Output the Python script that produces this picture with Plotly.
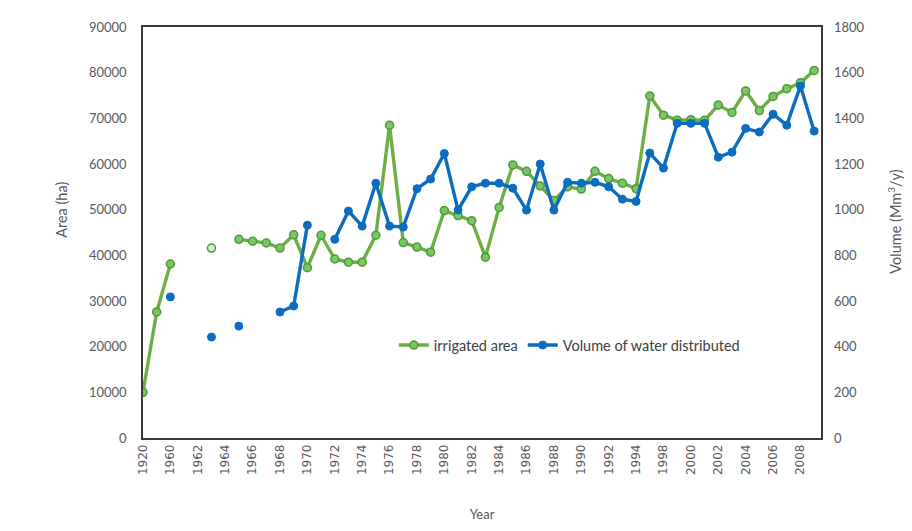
import plotly.graph_objects as go

years = ["1920", "1940", "1960", "1961", "1962", "1963", "1964", "1965", "1966", "1967",
         "1968", "1969", "1970", "1971", "1972", "1973", "1974", "1975", "1976", "1977",
         "1978", "1979", "1980", "1981", "1982", "1983", "1984", "1985", "1986", "1987",
         "1988", "1989", "1990", "1991", "1992", "1993", "1994", "1996", "1998", "1999",
         "2000", "2001", "2002", "2003", "2004", "2005", "2006", "2007", "2008", "2009"]

tick_labels = ["1920", "1960", "1962", "1964", "1966", "1968", "1970", "1972", "1974", "1976",
               "1978", "1980", "1982", "1984", "1986", "1988", "1990", "1992", "1994", "1998",
               "2000", "2002", "2004", "2006", "2008"]

irrigated_area = [10000, 27600, 38100, None, None, 41600, None, 43500, 43100, 42700,
                  41600, 44500, 37300, 44400, 39200, 38500, 38500, 44400, 68500, 42800,
                  41800, 40700, 49800, 48700, 47600, 39600, 50500, 59800, 58400, 55200,
                  52000, 55000, 54500, 58400, 56800, 55800, 54600, 74900, 70700, 69600,
                  69700, 69600, 72900, 71300, 76000, 71700, 74800, 76500, 77800, 80500]

water_volume = [None, None, 618, None, None, 442, None, 490, None, None,
                552, 578, 932, None, 870, 994, 928, 1116, 928, 924,
                1092, 1134, 1246, 998, 1100, 1116, 1116, 1094, 998, 1200,
                998, 1120, 1116, 1120, 1100, 1046, 1036, 1248, 1182, 1378,
                1378, 1378, 1230, 1252, 1356, 1340, 1418, 1370, 1542, 1344]

green_line = "#6DAE45"
green_fill = ["#C9F2D6" if (i > 0 and irrigated_area[i - 1] is None and
                            (i + 1 < len(irrigated_area) and irrigated_area[i + 1] is None))
              else "#7CC566" for i in range(len(irrigated_area))]
blue = "#0B6CC0"
txt = "#595959"
font_family = "Lato, 'Open Sans', sans-serif"

fig = go.Figure()
fig.add_trace(go.Scatter(
    x=years, y=irrigated_area, name="irrigated area", mode="lines+markers",
    line=dict(color=green_line, width=3.4),
    marker=dict(size=8, color=green_fill, line=dict(color="#4D9A38", width=1.5)),
    connectgaps=False, yaxis="y"))
fig.add_trace(go.Scatter(
    x=years, y=water_volume, name="Volume of water distributed", mode="lines+markers",
    line=dict(color=blue, width=3.4),
    marker=dict(size=8, color=blue, line=dict(color=blue, width=1)),
    connectgaps=False, yaxis="y2"))

fig.update_layout(
    width=904, height=523,
    margin=dict(l=135, r=91, t=19, b=93),
    paper_bgcolor="white", plot_bgcolor="white",
    font=dict(family=font_family, color=txt, size=13),
    showlegend=True,
    legend=dict(orientation="h", x=0.37, y=0.226, xanchor="left", yanchor="middle",
                font=dict(size=14.5, color="#404040"), bgcolor="rgba(0,0,0,0)",
                itemwidth=30, tracegroupgap=0),
    xaxis=dict(type="category", categoryorder="array", categoryarray=years,
               range=[0, 49.5], tickmode="array", tickvals=tick_labels, ticktext=tick_labels,
               tickangle=-90, tickfont=dict(family="DejaVu Sans", size=12, color=txt),
               showgrid=False, zeroline=False, showline=True, mirror=True,
               linecolor="#3a3a3a", linewidth=1.5, ticks="", automargin=False,
               title=dict(text="Year", standoff=36, font=dict(size=13, color=txt))),
    yaxis=dict(range=[0, 90000], dtick=10000, tickformat="d", showgrid=False, zeroline=False,
               showline=True, mirror=True, linecolor="#3a3a3a", linewidth=1.5,
               ticks="", ticklabelstandoff=12, automargin=False),
    yaxis2=dict(range=[0, 1800], dtick=200, tickformat="d", overlaying="y", side="right",
                showgrid=False, zeroline=False, showline=False, ticks="",
                ticklabelstandoff=12, automargin=False),
    annotations=[
        dict(text="Area (ha)", xref="paper", yref="paper", x=-0.1195, y=0.555,
             textangle=-90, showarrow=False, xanchor="center", yanchor="middle",
             font=dict(size=14.5, color=txt)),
        dict(text="Volume (Mm<sup>3</sup>/y)", xref="paper", yref="paper", x=1.109, y=0.526,
             textangle=-90, showarrow=False, xanchor="center", yanchor="middle",
             font=dict(size=14.5, color=txt)),
    ],
)

fig.write_html("out.html")
